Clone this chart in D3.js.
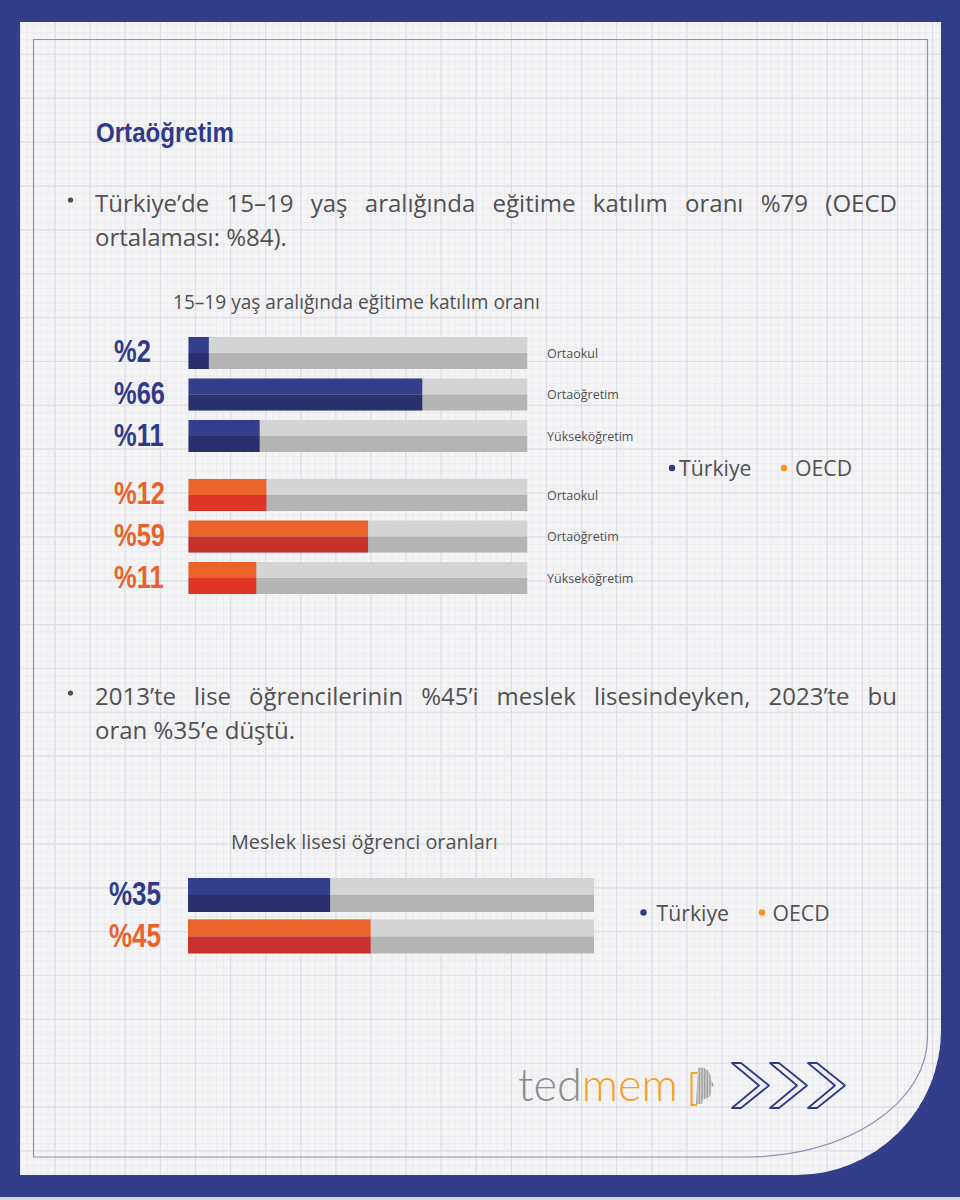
<!DOCTYPE html>
<html>
<head>
<meta charset="utf-8">
<script src="https://cdn.jsdelivr.net/npm/d3@7"></script>
<style>
  html, body { margin: 0; padding: 0; background: #fff; }
  svg { display: block; }
</style>
</head>
<body>
<div id="chart"></div>
<script>
// ---- data ----
const levels = ['Ortaokul', 'Ortaöğretim', 'Yükseköğretim'];
const turkiyeRates = [2, 66, 11];
const oecdRates = [12, 59, 11];
// bar lengths as they are drawn in the infographic (share of the grey track, %)
const turkiyeBars = [6, 69, 21];
const oecdBars = [23, 53, 20];
const vocationalSeries = ['Türkiye', 'OECD'];
const vocationalRates = [35, 45];
const legendItems = ['Türkiye', 'OECD'];
const bullet1 = ['Türkiye’de 15–19 yaş aralığında eğitime katılım oranı %79 (OECD', 'ortalaması: %84).'];
const bullet2 = ['2013’te lise öğrencilerinin %45’i meslek lisesindeyken, 2023’te bu', 'oran %35’e düştü.'];
const chart1Title = '15–19 yaş aralığında eğitime katılım oranı';
const chart2Title = 'Meslek lisesi öğrenci oranları';

const W = 960, H = 1200;
const NAVY = '#323e8a';
const BODY = '"Open Sans", "Noto Sans", sans-serif';
const COND = '"Liberation Sans", Arial, sans-serif';
const COLORS = {
  'Türkiye': {label: '#2f3b89', top: '#333f8c', bottom: '#2a2f6e', dot: '#2f3b89'},
  'OECD': {label: '#e8632b', top: '#e9632a', bottom: '#df3527', dot: '#f7941d'}
};

const svg = d3.select('#chart').append('svg')
  .attr('width', W)
  .attr('height', H);

// scale text so it spans a width
function fit(sel, w) {
  const fs = parseFloat(sel.attr('font-size'));
  const size = fs * w / sel.node().getComputedTextLength();
  sel.attr('font-size', size);
  return size;
}

// squeeze text horizontally (no condensed face installed)
function squeeze(sel, k) {
  const x = +sel.attr('x'), y = +sel.attr('y');
  sel.attr('x', 0).attr('y', 0).attr('transform', `translate(${x},${y}) scale(${k},1)`);
}

function measure(text, family, weight, size) {
  const t = svg.append('text').attr('font-family', family).attr('font-weight', weight)
    .attr('font-size', size).text(text);
  const w = t.node().getComputedTextLength();
  t.remove();
  return w;
}

// justified line: words spread between x0 and x1
function justify(g, line, x0, x1, y, fs) {
  const words = line.split(' ');
  const ts = words.map((w) => g.append('text').attr('y', y).attr('font-size', fs).text(w));
  const ws = ts.map((t) => t.node().getComputedTextLength());
  const gap = (x1 - x0 - d3.sum(ws)) / (words.length - 1);
  let x = x0;
  ts.forEach((t, i) => {
    t.attr('x', x);
    x += ws[i] + gap;
  });
}

// ---- frame ----
const defs = svg.append('defs');
const panelPath = 'M20,22 H941 V1030 A145,145 0 0 1 796,1175 H20 Z';
defs.append('clipPath').attr('id', 'panel').append('path').attr('d', panelPath);
const hatch = defs.append('pattern').attr('id', 'hatch')
  .attr('width', 1.6).attr('height', 1.6).attr('patternUnits', 'userSpaceOnUse');
hatch.append('rect').attr('width', 1.6).attr('height', 1.6).attr('fill', '#d6d6d6');
hatch.append('rect').attr('width', 0.7).attr('height', 1.6).attr('fill', '#8f8f8f');

svg.append('rect').attr('width', W).attr('height', H).attr('fill', NAVY);
svg.append('rect').attr('y', 1197).attr('width', W).attr('height', 3).attr('fill', '#d3d4dc');
svg.append('path').attr('d', panelPath).attr('fill', '#f4f4f6');

// grid paper
const grid = svg.append('g').attr('clip-path', 'url(#panel)');
const minorX = d3.range(20, 945, 35.1 / 5);
const minorY = d3.range(10.6, 1180, 43.86 / 6);
grid.selectAll('line.mx').data(minorX).join('line')
  .attr('x1', (d) => d).attr('x2', (d) => d).attr('y1', 0).attr('y2', H)
  .attr('stroke', '#eaeaee').attr('stroke-width', 0.8);
grid.selectAll('line.my').data(minorY).join('line')
  .attr('y1', (d) => d).attr('y2', (d) => d).attr('x1', 0).attr('x2', W)
  .attr('stroke', '#eaeaee').attr('stroke-width', 0.8);
grid.selectAll('line.Mx').data(d3.range(20, 945, 35.1)).join('line')
  .attr('x1', (d) => d).attr('x2', (d) => d).attr('y1', 0).attr('y2', H)
  .attr('stroke', '#dedee4').attr('stroke-width', 1.2);
grid.selectAll('line.My').data(d3.range(10.6, 1180, 43.86)).join('line')
  .attr('y1', (d) => d).attr('y2', (d) => d).attr('x1', 0).attr('x2', W)
  .attr('stroke', '#dedee4').attr('stroke-width', 1.2);

svg.append('path')
  .attr('d', 'M33.5,39.5 H927.5 V1037 A181,120 0 0 1 746,1157 H33.5 Z')
  .attr('fill', 'none')
  .attr('stroke', '#8d90b6')
  .attr('stroke-width', 1.2);

// ---- texts ----
const title = svg.append('text')
  .attr('x', 96).attr('y', 142)
  .attr('font-family', COND).attr('font-weight', 'bold').attr('font-size', 28)
  .attr('fill', '#2f3b89')
  .text('Ortaöğretim');
squeeze(title, 138 / title.node().getComputedTextLength());

const body = svg.append('g').attr('font-family', BODY).attr('fill', '#505050');
const probe = body.append('text').attr('font-size', 26).text(bullet1[1]);
const bodySize = fit(probe, 192);
probe.remove();

function bullet(lines, y) {
  body.append('circle').attr('cx', 70.5).attr('cy', y - 12).attr('r', 2.6).attr('fill', '#505050');
  justify(body, lines[0], 95, 897, y, bodySize);
  body.append('text').attr('x', 95).attr('y', y + 34).attr('font-size', bodySize).text(lines[1]);
}
bullet(bullet1, 212);
bullet(bullet2, 705);

const t1 = svg.append('text')
  .attr('x', 173).attr('y', 309)
  .attr('font-family', BODY).attr('font-size', 17).attr('fill', '#505050')
  .text(chart1Title);
fit(t1, 367);

const t2 = svg.append('text')
  .attr('x', 231).attr('y', 848.5)
  .attr('font-family', BODY).attr('font-size', 21).attr('fill', '#505050')
  .text(chart2Title);
fit(t2, 267);

// ---- bars ----
function drawRows(g, rows, x, y, labelX, labelSize, labelK, catX) {
  const row = g.selectAll('g.row').data(rows).join('g').attr('class', 'row');
  const hh = y.bandwidth() / 2;
  row.append('rect')
    .attr('x', x(0)).attr('y', (d) => y(d.key))
    .attr('width', x(100) - x(0)).attr('height', hh).attr('fill', '#d4d4d4');
  row.append('rect')
    .attr('x', x(0)).attr('y', (d) => y(d.key) + hh)
    .attr('width', x(100) - x(0)).attr('height', hh).attr('fill', '#b4b4b4');
  row.append('rect')
    .attr('x', x(0)).attr('y', (d) => y(d.key))
    .attr('width', (d) => x(d.bar) - x(0)).attr('height', hh)
    .attr('fill', (d) => COLORS[d.series].top);
  row.append('rect')
    .attr('x', x(0)).attr('y', (d) => y(d.key) + hh)
    .attr('width', (d) => x(d.bar) - x(0)).attr('height', hh)
    .attr('fill', (d) => d.shade || COLORS[d.series].bottom);
  row.append('text')
    .attr('font-family', COND).attr('font-weight', 'bold').attr('font-size', labelSize)
    .attr('fill', (d) => COLORS[d.series].label)
    .attr('transform', (d) => `translate(${labelX},${y(d.key) + y.bandwidth() - 6.5}) scale(${labelK},1)`)
    .text((d) => `%${d.rate}`);
  if (catX) {
    row.append('text')
      .attr('x', catX).attr('y', (d) => y(d.key) + y.bandwidth() - 11)
      .attr('font-family', BODY).attr('font-size', 12.5).attr('fill', '#505050')
      .text((d) => d.level);
  }
}

const xA = d3.scaleLinear().domain([0, 100]).range([188.5, 527.3]);
const yTr = d3.scaleBand().domain(levels).range([337, 452]).paddingInner(0.229);
const yOe = d3.scaleBand().domain(levels).range([479, 594]).paddingInner(0.229);
const kA = 51 / measure('%66', COND, 'bold', 30.5);
const kB = 52 / measure('%35', COND, 'bold', 33.5);

drawRows(svg.append('g'),
  levels.map((l, i) => ({key: l, level: l, series: 'Türkiye', rate: turkiyeRates[i], bar: turkiyeBars[i]})),
  xA, yTr, 114, 30.5, kA, 547);
drawRows(svg.append('g'),
  levels.map((l, i) => ({key: l, level: l, series: 'OECD', rate: oecdRates[i], bar: oecdBars[i],
    shade: i === 1 ? '#c7312b' : null})),
  xA, yOe, 114, 30.5, kA, 547);

const xB = d3.scaleLinear().domain([0, 100]).range([188, 594]);
const yB = d3.scaleBand().domain(vocationalSeries).range([878, 953.4]).paddingInner(0.179);
drawRows(svg.append('g'),
  vocationalSeries.map((s, i) => ({key: s, series: s, rate: vocationalRates[i], bar: vocationalRates[i],
    shade: s === 'OECD' ? '#c9312c' : null})),
  xB, yB, 109, 33.5, kB, null);

// ---- legends ----
function legend(items, dots, textX, y, size) {
  const g = svg.append('g').attr('font-family', BODY).attr('fill', '#505050');
  items.forEach((name, i) => {
    g.append('circle').attr('cx', dots[i]).attr('cy', y - 8).attr('r', 3.2).attr('fill', COLORS[name].dot);
    const t = g.append('text').attr('x', textX[i]).attr('y', y).attr('font-size', size).text(name);
    if (i === 0) size = fit(t, 72.5);
  });
}
legend(legendItems, [672, 784], [679, 795], 476, 22);
legend(legendItems, [643.5, 762], [656.5, 772.5], 920.5, 22);

// ---- logo ----
const logo = svg.append('text')
  .attr('x', 518).attr('y', 1101)
  .attr('font-family', 'Lato, "Open Sans", sans-serif').attr('font-weight', 300).attr('font-size', 46);
logo.append('tspan').attr('fill', '#8b8b8b').text('ted');
logo.append('tspan').attr('fill', '#f5a01e').text('mem');
fit(logo, 160);

svg.append('path')
  .attr('d', 'M698,1068 C706,1066 711,1072 711,1079 L714,1086 L711,1087 L711,1093 C711,1097 707,1099 703,1099 L702,1104 L696,1104 Z')
  .attr('fill', 'url(#hatch)');
svg.append('path')
  .attr('d', 'M697,1073 H691.5 V1105 H697')
  .attr('fill', 'none').attr('stroke', '#f5a01e').attr('stroke-width', 2);

svg.append('g').selectAll('path').data([732, 770, 808]).join('path')
  .attr('d', (x0) => `M${x0},1063 L${x0 + 9},1063 L${x0 + 37},1085.5 L${x0 + 9},1108 L${x0},1108 L${x0 + 27},1085.5 Z`)
  .attr('fill', 'none')
  .attr('stroke', '#2f3b89')
  .attr('stroke-width', 1.8)
  .attr('stroke-linejoin', 'round');
</script>
</body>
</html>
